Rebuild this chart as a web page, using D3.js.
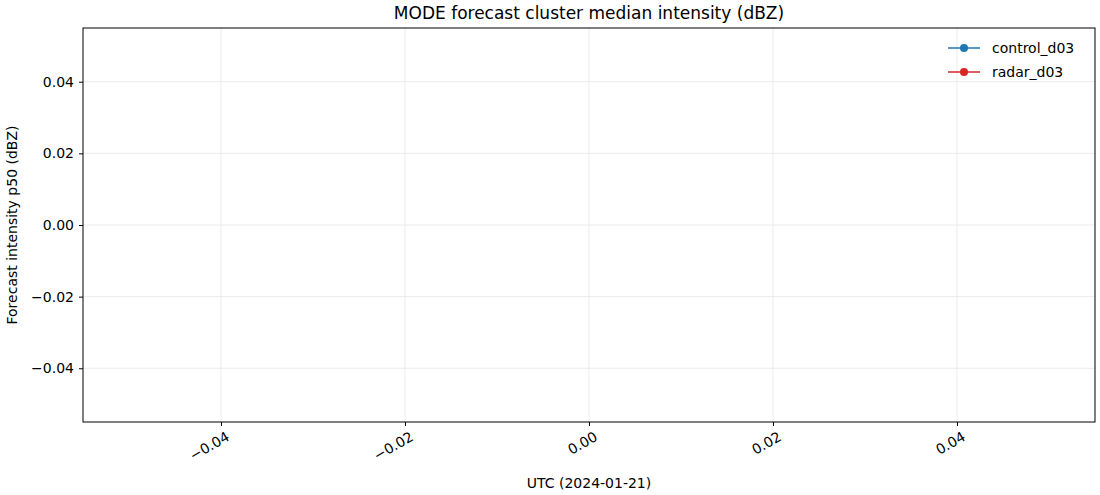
<html>
<head>
<meta charset="utf-8">
<script src="https://cdn.jsdelivr.net/npm/d3@7"></script>
<style>body{margin:0;background:#fff}text{font-family:"DejaVu Sans",sans-serif}</style>
</head>
<body>
<svg id="chart" width="1100" height="495"></svg>
<script>
// no data for this day: both series are empty
var times = [];
var controlValues = [];
var radarValues = [];
var seriesNames = ["control_d03", "radar_d03"];
var seriesColors = ["#1f77b4", "#d62728"];
var xTicks = [-0.04, -0.02, 0, 0.02, 0.04];
var yTicks = [-0.04, -0.02, 0, 0.02, 0.04];

var svg = d3.select("#chart");
var m = {l: 83, r: 1095, t: 28, b: 422};
var x = d3.scaleLinear().domain([-0.055, 0.055]).range([m.l, m.r]);
var y = d3.scaleLinear().domain([-0.055, 0.055]).range([m.b, m.t]);
var fmt = function(d) { return d3.format(".2f")(d).replace("-", "\u2212"); };

// grid
svg.append("g").selectAll("line").data(xTicks).join("line")
  .attr("x1", x).attr("x2", x).attr("y1", m.t).attr("y2", m.b)
  .attr("stroke", "#ebebeb").attr("stroke-width", 1);
svg.append("g").selectAll("line").data(yTicks).join("line")
  .attr("y1", y).attr("y2", y).attr("x1", m.l).attr("x2", m.r)
  .attr("stroke", "#ebebeb").attr("stroke-width", 1);

// axes
var xa = svg.append("g").attr("transform", "translate(0," + m.b + ")")
  .call(d3.axisBottom(x).tickValues(xTicks).tickFormat(fmt).tickSize(4).tickPadding(4));
xa.selectAll("text").attr("text-anchor", "end").attr("x", 0).attr("y", 0).attr("dy", "0.7em")
  .attr("transform", "translate(4,9) rotate(-30)");
var ya = svg.append("g").attr("transform", "translate(" + m.l + ",0)")
  .call(d3.axisLeft(y).tickValues(yTicks).tickFormat(fmt).tickSize(4).tickPadding(5));
svg.selectAll(".domain").remove();
svg.selectAll(".tick text").attr("font-size", 14).attr("fill", "#000")
  .attr("font-family", "DejaVu Sans");
svg.selectAll(".tick line").attr("stroke", "#000");
svg.append("rect").attr("x", m.l).attr("y", m.t).attr("width", m.r - m.l).attr("height", m.b - m.t)
  .attr("fill", "none").attr("stroke", "#000").attr("stroke-width", 1);

// series (empty)
var line = d3.line().x(function(d, i) { return x(times[i]); }).y(function(d) { return y(d); });
[controlValues, radarValues].forEach(function(vals, k) {
  svg.append("path").datum(vals).attr("d", line).attr("fill", "none").attr("stroke", seriesColors[k]).attr("stroke-width", 1.5);
  svg.append("g").selectAll("circle").data(vals).join("circle")
    .attr("cx", function(d, i) { return x(times[i]); }).attr("cy", y).attr("r", 4).attr("fill", seriesColors[k]);
});

// labels
svg.append("text").attr("x", (m.l + m.r) / 2).attr("y", 19).attr("text-anchor", "middle")
  .attr("font-size", 17).text("MODE forecast cluster median intensity (dBZ)");
svg.append("text").attr("x", (m.l + m.r) / 2).attr("y", 488).attr("text-anchor", "middle")
  .attr("font-size", 14).text("UTC (2024-01-21)");
svg.append("text").attr("transform", "translate(17," + ((m.t + m.b) / 2) + ") rotate(-90)")
  .attr("text-anchor", "middle").attr("font-size", 14).text("Forecast intensity p50 (dBZ)");

// legend
var lg = svg.append("g").selectAll("g").data(seriesNames).join("g")
  .attr("transform", function(d, i) { return "translate(948," + (48 + i * 24) + ")"; });
lg.append("line").attr("x1", 0).attr("x2", 32).attr("stroke", function(d, i) { return seriesColors[i]; }).attr("stroke-width", 1.5);
lg.append("circle").attr("cx", 16).attr("r", 4).attr("fill", function(d, i) { return seriesColors[i]; });
lg.append("text").attr("x", 44).attr("dy", "0.35em").attr("font-size", 14).text(function(d) { return d; });
</script>
</body>
</html>
